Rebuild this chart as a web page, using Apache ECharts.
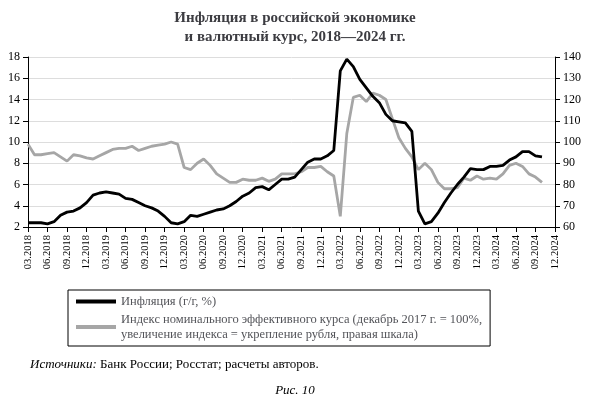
<!DOCTYPE html>
<html><head><meta charset="utf-8">
<script src="https://cdn.jsdelivr.net/npm/echarts@6/dist/echarts.min.js"></script>
<style>html,body{margin:0;background:#fff}#c{width:590px;height:403px}</style>
</head><body><div id="c"></div>
<script>
// months 03.2018 .. 12.2024
var months = [];
for (var y = 2018; y <= 2024; y++) {
    for (var m = (y == 2018 ? 3 : 1); m <= 12; m++) months.push((m < 10 ? "0" : "") + m + "." + y);
}
// inflation, y/y %, left axis
var inflation = [
    2.4, 2.4, 2.4, 2.3, 2.5, 3.1, 3.4, 3.5, 3.8, 4.3,
    5.0, 5.2, 5.3, 5.2, 5.1, 4.7, 4.6, 4.3, 4.0, 3.8, 3.5, 3.0,
    2.4, 2.3, 2.5, 3.1, 3.0, 3.2, 3.4, 3.6, 3.7, 4.0, 4.4, 4.9,
    5.2, 5.7, 5.8, 5.5, 6.0, 6.5, 6.5, 6.7, 7.4, 8.1, 8.4, 8.4,
    8.7, 9.2, 16.7, 17.8, 17.1, 15.9, 15.1, 14.3, 13.7, 12.6, 12.0, 11.9,
    11.8, 11.0, 3.5, 2.3, 2.5, 3.3, 4.3, 5.2, 6.0, 6.7, 7.5, 7.4,
    7.4, 7.7, 7.7, 7.8, 8.3, 8.6, 9.1, 9.1, 8.7, 8.6
];
// nominal effective exchange rate index, right axis
var neer = [
    99, 94, 94, 94.5, 95, 93, 91, 94, 93.5, 92.5,
    92, 93.5, 95, 96.5, 97, 97, 98, 96, 97, 98, 98.5, 99,
    100, 99, 88, 87, 90, 92, 89, 85, 83, 81, 81, 82.5,
    82, 82, 83, 81.5, 82.5, 85, 85, 85, 86, 88, 88, 88.5,
    86, 84, 65, 104, 121, 122, 119, 123, 122, 120, 111, 102,
    97, 93, 87, 90, 87, 81, 78, 78, 78.5, 83, 82, 84,
    82.5, 83, 82.5, 85, 89, 90, 88.5, 85, 83.5, 81
];
var font = "Liberation Serif";

var myChart = echarts.init(document.getElementById("c"));
var option = {
    animation: false,
    textStyle: { fontFamily: font, color: "#000" },
    title: {
        text: "Инфляция в российской экономике\nи валютный курс, 2018—2024 гг.",
        left: "center", top: 4,
        textStyle: { fontFamily: font, fontSize: 15, fontWeight: "bold", lineHeight: 19 },
    },
    grid: { left: 28, right: 35, top: 57, bottom: 176 },
    legend: {
        orient: "vertical", left: 68, top: 290, itemGap: 3,
        borderColor: "#000", borderWidth: 1, padding: [4, 8, 4, 8],
        itemWidth: 40, itemHeight: 4, icon: "rect",
        textStyle: { fontFamily: font, fontSize: 12.5, lineHeight: 15 },
        data: [
            { name: "Инфляция (г/г, %)", itemStyle: { color: "#000" } },
            { name: "Индекс номинального эффективного курса (декабрь 2017 г. = 100%,\nувеличение индекса = укрепление рубля, правая шкала)", itemStyle: { color: "#a6a6a6" } },
        ],
    },
    xAxis: {
        type: "category", data: months, boundaryGap: false,
        axisLine: { lineStyle: { color: "#000" } },
        axisTick: { interval: 2, lineStyle: { color: "#000" } },
        axisLabel: { interval: 2, rotate: 90, fontSize: 10.5, fontFamily: font, color: "#000" },
    },
    yAxis: [
        {
            type: "value", min: 2, max: 18, interval: 2,
            axisLine: { show: true, lineStyle: { color: "#000" } },
            axisTick: { show: true },
            axisLabel: { fontSize: 12, fontFamily: font, color: "#000" },
            splitLine: { lineStyle: { color: "#ddd" } },
        },
        {
            type: "value", min: 60, max: 140, interval: 10,
            axisLine: { show: true, lineStyle: { color: "#000" } },
            axisTick: { show: true },
            axisLabel: { fontSize: 12, fontFamily: font, color: "#000" },
            splitLine: { show: false },
        },
    ],
    series: [
        {
            name: "Инфляция (г/г, %)", type: "line", data: inflation, yAxisIndex: 0,
            showSymbol: false, lineStyle: { color: "#000", width: 2.8 }, itemStyle: { color: "#000" }, z: 3,
        },
        {
            name: "Индекс номинального эффективного курса (декабрь 2017 г. = 100%,\nувеличение индекса = укрепление рубля, правая шкала)",
            type: "line", data: neer, yAxisIndex: 1,
            showSymbol: false, lineStyle: { color: "#a6a6a6", width: 2.8 }, itemStyle: { color: "#a6a6a6" }, z: 2,
        },
    ],
    graphic: [
        { type: "text", left: 30, top: 358, style: { text: "{i|Источники:} Банк России; Росстат; расчеты авторов.", font: "13px " + font, rich: { i: { fontStyle: "italic", fontFamily: font, fontSize: 13 } } } },
        { type: "text", left: "center", top: 384, style: { text: "Рис. 10", font: "italic 13px " + font } },
    ],
};
myChart.setOption(option);
</script></body></html>
